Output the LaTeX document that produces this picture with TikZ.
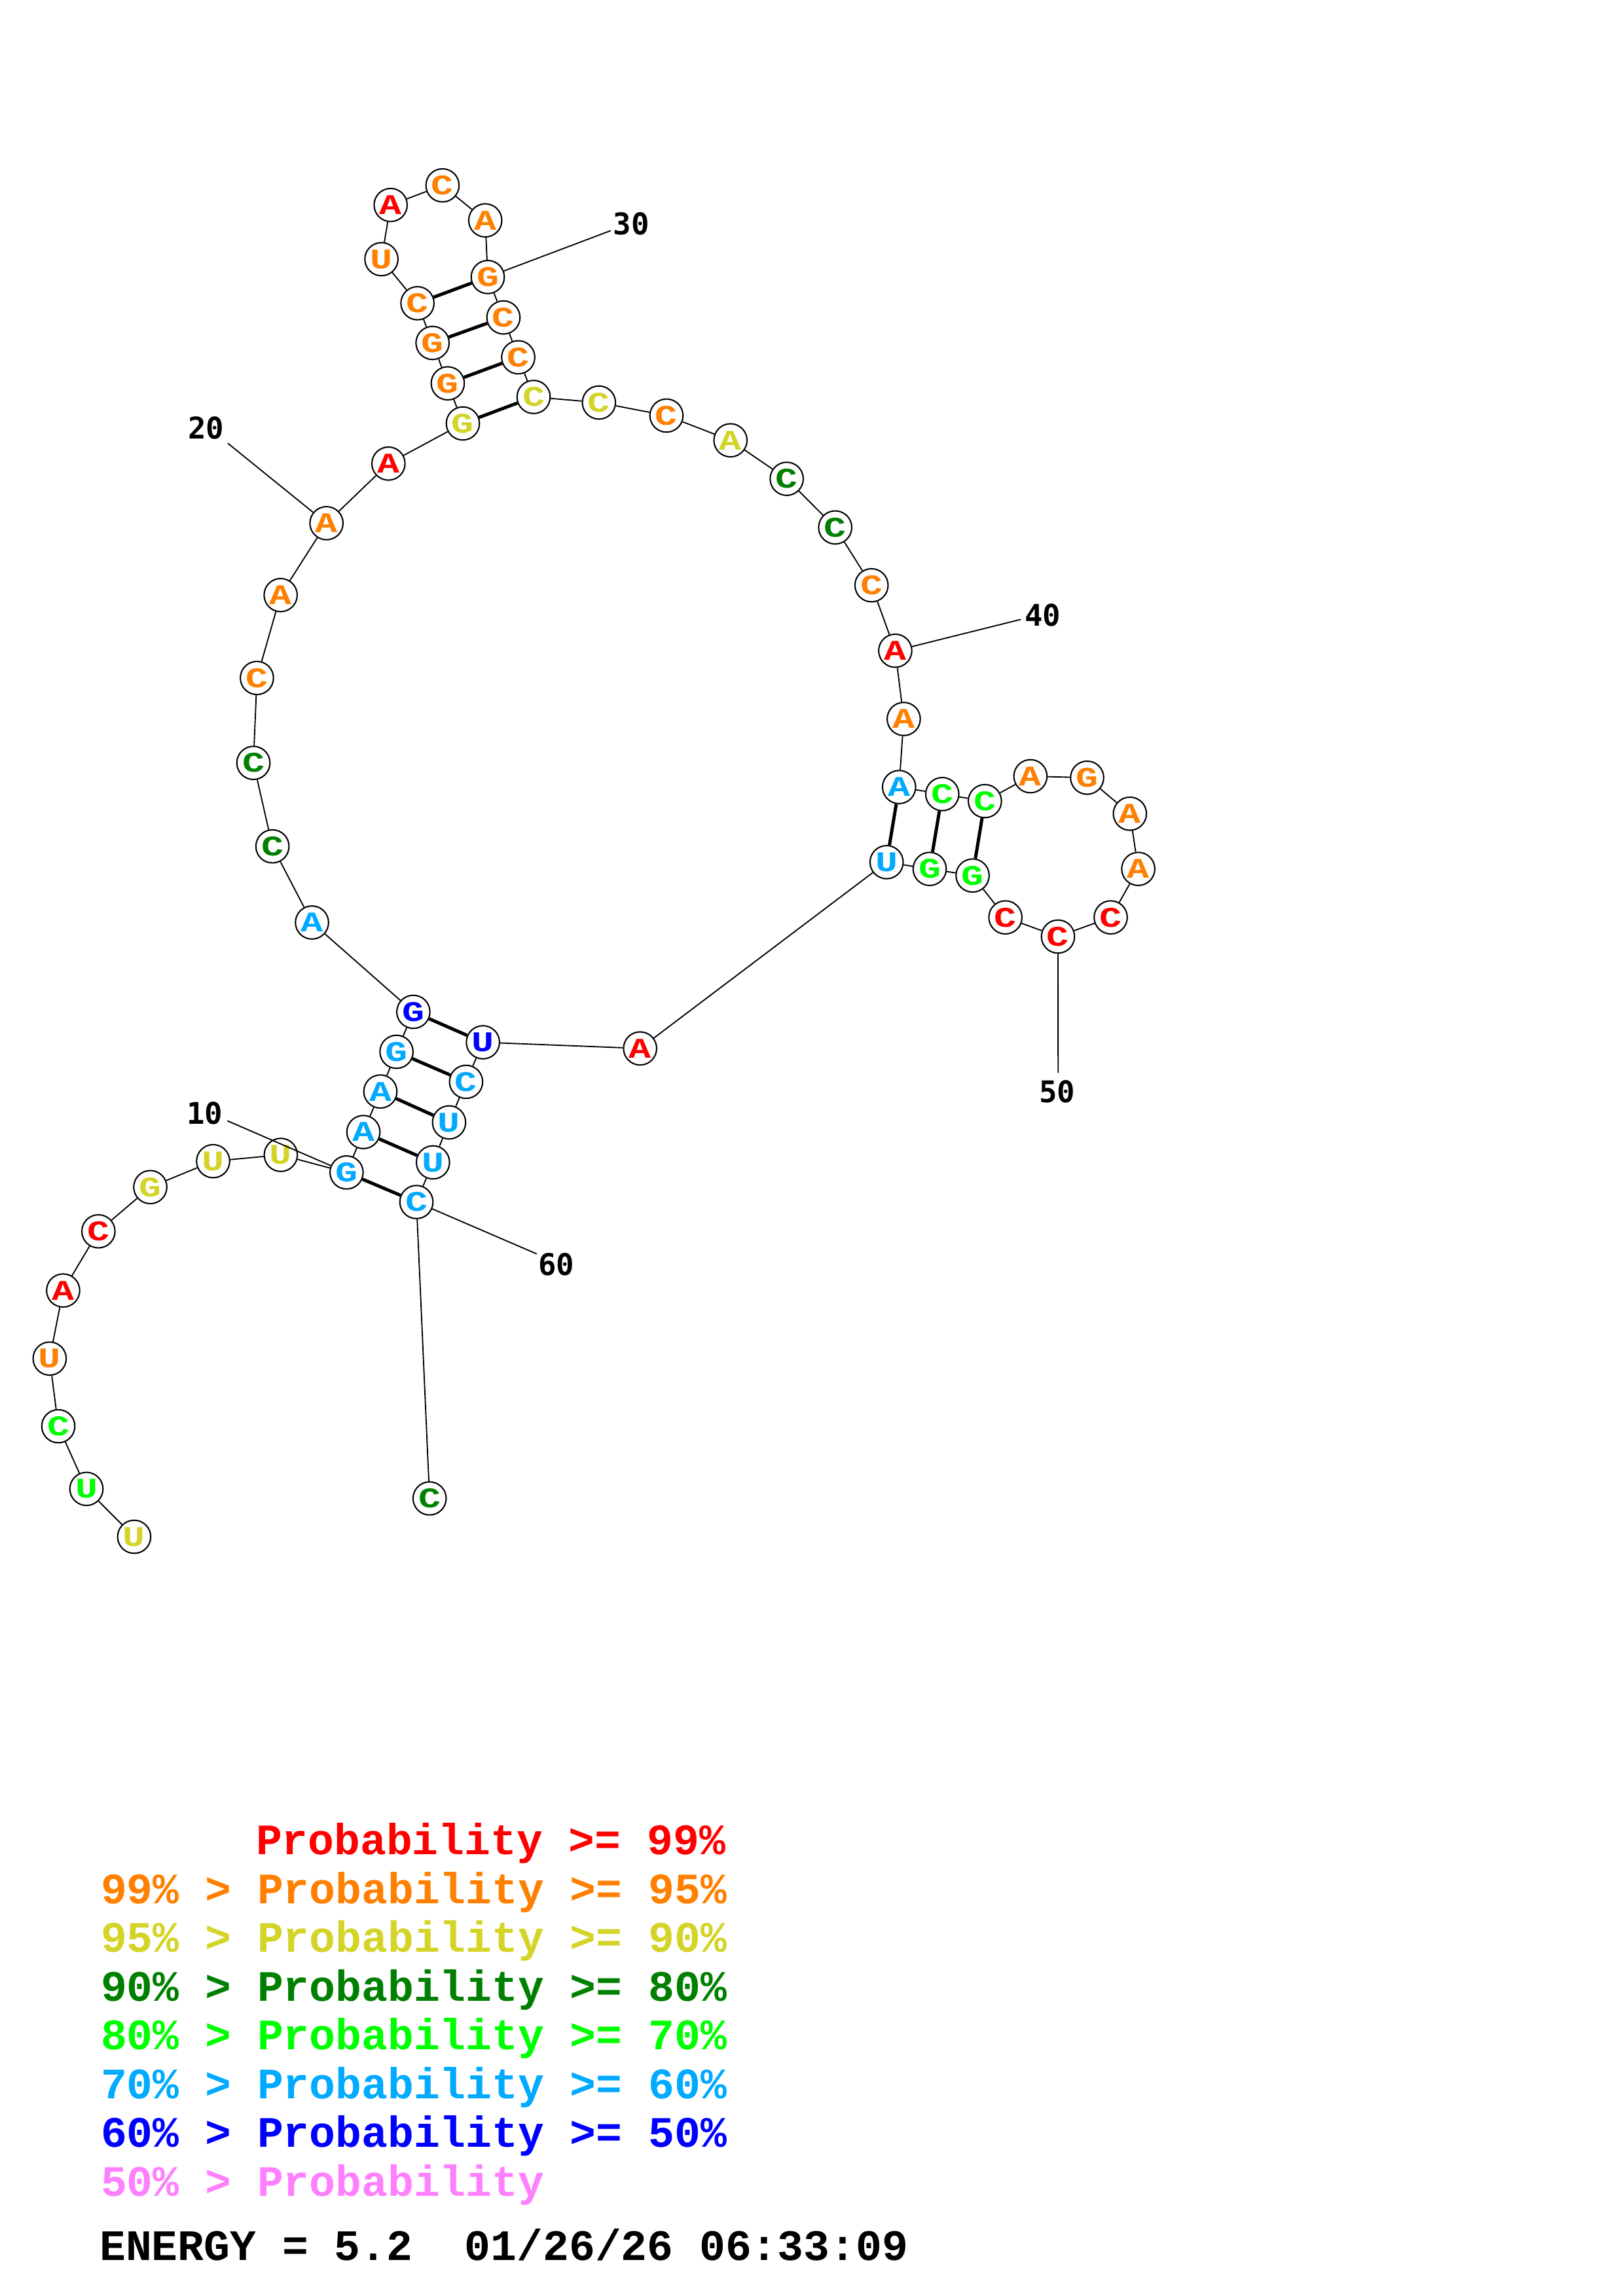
\documentclass[tikz,border=0pt]{standalone}
\usepackage{fontspec}
\usepackage{graphicx}
\newfontfamily\numfont{DejaVu Sans Mono}
\newfontfamily\cour{Liberation Mono}
\newcommand\wide[1]{\scalebox{1.3}[1]{#1}}
\definecolor{pred}{RGB}{255,0,0}
\definecolor{porange}{RGB}{255,128,0}
\definecolor{pyellow}{RGB}{212,212,40}
\definecolor{pdkgreen}{RGB}{0,128,0}
\definecolor{pgreen}{RGB}{0,255,0}
\definecolor{pltblue}{RGB}{0,170,255}
\definecolor{pblue}{RGB}{0,0,255}
\definecolor{ppink}{RGB}{255,128,255}
\begin{document}
\begin{tikzpicture}[x=0.18953mm, y=-0.18953mm,
  base/.style = {draw, circle, fill=white, line width=0.5pt, minimum size=12.2pt, inner sep=0pt, font=\cour\bfseries\fontsize{10.5}{10.5}\selectfont},
  R/.style = {base, text=pred}, O/.style = {base, text=porange}, Y/.style = {base, text=pyellow},
  D/.style = {base, text=pdkgreen}, G/.style = {base, text=pgreen}, L/.style = {base, text=pltblue},
  B/.style = {base, text=pblue},
  bb/.style = {line width=0.45pt}, pair/.style = {line width=1.2pt},
  num/.style = {inner sep=0pt, font=\numfont\bfseries\fontsize{11}{11}\selectfont},
  leg/.style = {anchor=base west, inner sep=0pt, font=\cour\bfseries\fontsize{16}{16}\selectfont}]
\useasboundingbox (0,0) rectangle (1108,1568);

\node[Y] (1) at (91.6,1049.5) {\wide{U}};
\node[G] (2) at (59.0,1016.8) {\wide{U}};
\node[G] (3) at (39.8,974.0) {\wide{C}};
\node[O] (4) at (33.9,927.8) {\wide{U}};
\node[R] (5) at (43.1,881.3) {\wide{A}};
\node[R] (6) at (67.2,840.9) {\wide{C}};
\node[Y] (7) at (102.6,810.7) {\wide{G}};
\node[Y] (8) at (145.5,793.0) {\wide{U}};
\node[Y] (9) at (191.7,788.7) {\wide{U}};
\node[L] (10) at (236.6,800.7) {\wide{G}};
\node[L] (11) at (248.1,773.1) {\wide{A}};
\node[L] (12) at (259.7,745.4) {\wide{A}};
\node[L] (13) at (270.7,718.3) {\wide{G}};
\node[B] (14) at (282.2,691.0) {\wide{G}};
\node[L] (15) at (213,630) {\wide{A}};
\node[D] (16) at (186,578) {\wide{C}};
\node[D] (17) at (173,521) {\wide{C}};
\node[O] (18) at (175.4,463.0) {\wide{C}};
\node[O] (19) at (191.6,406.4) {\wide{A}};
\node[O] (20) at (222.9,357.3) {\wide{A}};
\node[R] (21) at (265.2,316.6) {\wide{A}};
\node[Y] (22) at (316,289.2) {\wide{G}};
\node[O] (23) at (305.7,261.8) {\wide{G}};
\node[O] (24) at (295.3,234.2) {\wide{G}};
\node[O] (25) at (285.0,207.1) {\wide{C}};
\node[O] (26) at (260.4,177.0) {\wide{U}};
\node[R] (27) at (266.7,140.0) {\wide{A}};
\node[O] (28) at (302.1,126.6) {\wide{C}};
\node[O] (29) at (331.3,150.5) {\wide{A}};
\node[O] (30) at (333.0,189.2) {\wide{G}};
\node[O] (31) at (343.7,216.8) {\wide{C}};
\node[O] (32) at (353.8,244.0) {\wide{C}};
\node[Y] (33) at (364.3,271.1) {\wide{C}};
\node[Y] (34) at (408.9,274.9) {\wide{C}};
\node[O] (35) at (455.0,283.8) {\wide{C}};
\node[Y] (36) at (498.7,300.7) {\wide{A}};
\node[D] (37) at (537.1,327.0) {\wide{C}};
\node[D] (38) at (570.2,360.2) {\wide{C}};
\node[O] (39) at (595.0,399.7) {\wide{C}};
\node[R] (40) at (611.2,444.4) {\wide{A}};
\node[O] (41) at (617,491) {\wide{A}};
\node[L] (42) at (613.8,537.5) {\wide{A}};
\node[G] (43) at (643.3,542.3) {\wide{C}};
\node[G] (44) at (672.4,547.1) {\wide{C}};
\node[O] (45) at (703.5,530.1) {\wide{A}};
\node[O] (46) at (742.2,531.1) {\wide{G}};
\node[O] (47) at (771.4,555.7) {\wide{A}};
\node[O] (48) at (777.1,593.4) {\wide{A}};
\node[R] (49) at (758.3,626.5) {\wide{C}};
\node[R] (50) at (722.3,639.6) {\wide{C}};
\node[R] (51) at (686.4,626.5) {\wide{C}};
\node[G] (52) at (664.0,597.9) {\wide{G}};
\node[G] (53) at (634.7,593.4) {\wide{G}};
\node[L] (54) at (605.3,588.8) {\wide{U}};
\node[R] (55) at (437,716) {\wide{A}};
\node[B] (56) at (329.7,711.8) {\wide{U}};
\node[L] (57) at (318.2,738.8) {\wide{C}};
\node[L] (58) at (306.6,766.5) {\wide{U}};
\node[L] (59) at (295.6,793.8) {\wide{U}};
\node[L] (60) at (284.3,820.9) {\wide{C}};
\node[D] (61) at (293.3,1023.3) {\wide{C}};

\draw[bb] (1) -- (2) -- (3) -- (4) -- (5) -- (6) -- (7) -- (8) -- (9) -- (10) -- (11) -- (12) -- (13) -- (14) -- (15)
  -- (16) -- (17) -- (18) -- (19) -- (20) -- (21) -- (22) -- (23) -- (24) -- (25) -- (26) -- (27) -- (28) -- (29) -- (30)
  -- (31) -- (32) -- (33) -- (34) -- (35) -- (36) -- (37) -- (38) -- (39) -- (40) -- (41) -- (42) -- (43) -- (44) -- (45)
  -- (46) -- (47) -- (48) -- (49) -- (50) -- (51) -- (52) -- (53) -- (54) -- (55) -- (56) -- (57) -- (58) -- (59) -- (60) -- (61);

\draw[pair] (10) -- (60);
\draw[pair] (11) -- (59);
\draw[pair] (12) -- (58);
\draw[pair] (13) -- (57);
\draw[pair] (14) -- (56);
\draw[pair] (22) -- (33);
\draw[pair] (23) -- (32);
\draw[pair] (24) -- (31);
\draw[pair] (25) -- (30);
\draw[pair] (42) -- (54);
\draw[pair] (43) -- (53);
\draw[pair] (44) -- (52);

\node[num] (n10) at (139.8,760.2) {10};
\node[num] (n20) at (140.7,292.3) {20};
\node[num] (n30) at (431,153) {30};
\node[num] (n40) at (712,420) {40};
\node[num] (n50) at (721.7,745.7) {50};
\node[num] (n60) at (379.7,863.7) {60};
\coordinate (e10) at (155.2,765.4);
\coordinate (e20) at (155.5,302.7);
\coordinate (e30) at (417,157.5);
\coordinate (e40) at (697,423);
\coordinate (e50) at (722.4,732.7);
\coordinate (e60) at (366.4,856.3);
\draw[bb] (10) -- (e10);
\draw[bb] (20) -- (e20);
\draw[bb] (30) -- (e30);
\draw[bb] (40) -- (e40);
\draw[bb] (50) -- (e50);
\draw[bb] (60) -- (e60);

\node[leg, text=pred] (p1) at (174.4,1266.5) {Probability >= 99\%};
\node[leg, text=porange] (p2) at (68.5,1299.8) {99\% > Probability >= 95\%};
\node[leg, text=pyellow] (p3) at (68.5,1333.1) {95\% > Probability >= 90\%};
\node[leg, text=pdkgreen] (p4) at (68.5,1366.4) {90\% > Probability >= 80\%};
\node[leg, text=pgreen] (p5) at (68.5,1399.7) {80\% > Probability >= 70\%};
\node[leg, text=pltblue] (p6) at (68.5,1433.0) {70\% > Probability >= 60\%};
\node[leg, text=pblue] (p7) at (68.5,1466.3) {60\% > Probability >= 50\%};
\node[leg, text=ppink] (p8) at (68.5,1499.6) {50\% > Probability};
\node[leg] (energy) at (67.7,1543.7) {ENERGY = 5.2~ 01/26/26 06:33:09};
\end{tikzpicture}
\end{document}
